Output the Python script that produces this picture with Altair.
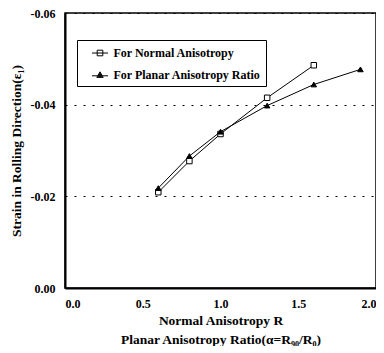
import altair as alt
import pandas as pd

series_names = ["For Normal Anisotropy", "For Planar Anisotropy Ratio"]
x_normal = [0.6, 0.8, 1.0, 1.3, 1.6]
y_normal = [-0.0209, -0.0277, -0.0336, -0.0415, -0.0486]
x_planar = [0.6, 0.8, 1.0, 1.3, 1.6, 1.9]
y_planar = [-0.0218, -0.0288, -0.0341, -0.0398, -0.0444, -0.0477]
x_ticks = [0.0, 0.5, 1.0, 1.5, 2.0]
y_ticks = [0.0, -0.02, -0.04, -0.06]

df = pd.DataFrame(
    {"R": x_normal, "strain": y_normal, "series": series_names[0]}
)
df = pd.concat(
    [df, pd.DataFrame({"R": x_planar, "strain": y_planar, "series": series_names[1]})],
    ignore_index=True,
)

FONT = "Liberation Serif"

x_enc = alt.X(
    "R:Q",
    scale=alt.Scale(domain=[0, 2], nice=False, zero=False),
    axis=alt.Axis(
        values=x_ticks,
        format=".1f",
        title=["Normal Anisotropy R", "Planar Anisotropy Ratio(α=R₉₀/R₀)"],
        titleLineHeight=19,
        grid=False,
        ticks=False,
        labelPadding=10,
        titlePadding=4,
    ),
)
y_enc = alt.Y(
    "strain:Q",
    scale=alt.Scale(domain=[0, -0.06], nice=False, zero=False),
    axis=alt.Axis(
        values=y_ticks,
        labelExpr="datum.value == 0 ? '0.00' : '-' + format(-datum.value, '.2f')",
        title="Strain in Rolling Direction(ε₁)",
        grid=True,
        gridDash=[2, 7],
        gridColor="black",
        gridWidth=1,
        ticks=False,
        labelPadding=10,
        titlePadding=7,
    ),
)

lines = alt.Chart(df).mark_line(color="black", strokeWidth=1).encode(
    x=x_enc, y=y_enc, detail="series:N"
)

points = alt.Chart(df).mark_point(stroke="black", strokeWidth=1, opacity=1, size=30).encode(
    x=x_enc,
    y=y_enc,
    shape=alt.Shape("series:N", scale=alt.Scale(domain=series_names, range=["square", "triangle-up"]), legend=None),
    fill=alt.Fill("series:N", scale=alt.Scale(domain=series_names, range=["white", "black"]), legend=None),
)

legend_paths = [
    "M-1,0H1M-0.35,-0.35H0.35V0.35H-0.35Z",
    "M-1,0.1H1M0,-0.4L0.4,0.3H-0.4ZM0,-0.2L0.2,0.2H-0.2ZM0,-0.3V0.3",
]

legend_layer = alt.Chart(df).transform_filter("false").mark_point(
    color="black", filled=False, strokeWidth=1, opacity=1
).encode(
    x=x_enc,
    y=y_enc,
    shape=alt.Shape(
        "series:N",
        scale=alt.Scale(domain=series_names, range=legend_paths),
        legend=alt.Legend(
            title=None,
            orient="none",
            legendX=12,
            legendY=27,
            strokeColor="black",
            padding=4.5,
            rowPadding=7,
            symbolSize=256,
            symbolOffset=10,
            symbolStrokeWidth=1,
            symbolStrokeColor="black",
            labelFont=FONT,
            labelFontSize=12,
            labelFontWeight="bold",
            labelColor="black",
            labelOffset=5,
            labelLimit=400,
            labelExpr="datum.label + '\u00a0\u00a0\u00a0\u00a0\u00a0\u00a0'",
            fillColor="white",
        ),
    ),
)

chart = (
    alt.layer(lines, points, legend_layer)
    .resolve_scale(shape="independent", fill="independent")
    .properties(
        width=311,
        height=275,
        autosize=alt.AutoSizeParams(type="none"),
        padding={"left": 57, "top": 5, "right": 0, "bottom": 58},
    )
    .configure_view(stroke="black", strokeWidth=1.5)
    .configure_axis(
        labelFont=FONT,
        labelFontSize=12,
        labelFontWeight="bold",
        labelColor="black",
        titleFont=FONT,
        titleFontSize=13.5,
        titleFontWeight="bold",
        titleColor="black",
        domainColor="black",
        domainWidth=2,
    )
)

chart.save("out.html", embed_options={"renderer": "svg", "actions": False})
